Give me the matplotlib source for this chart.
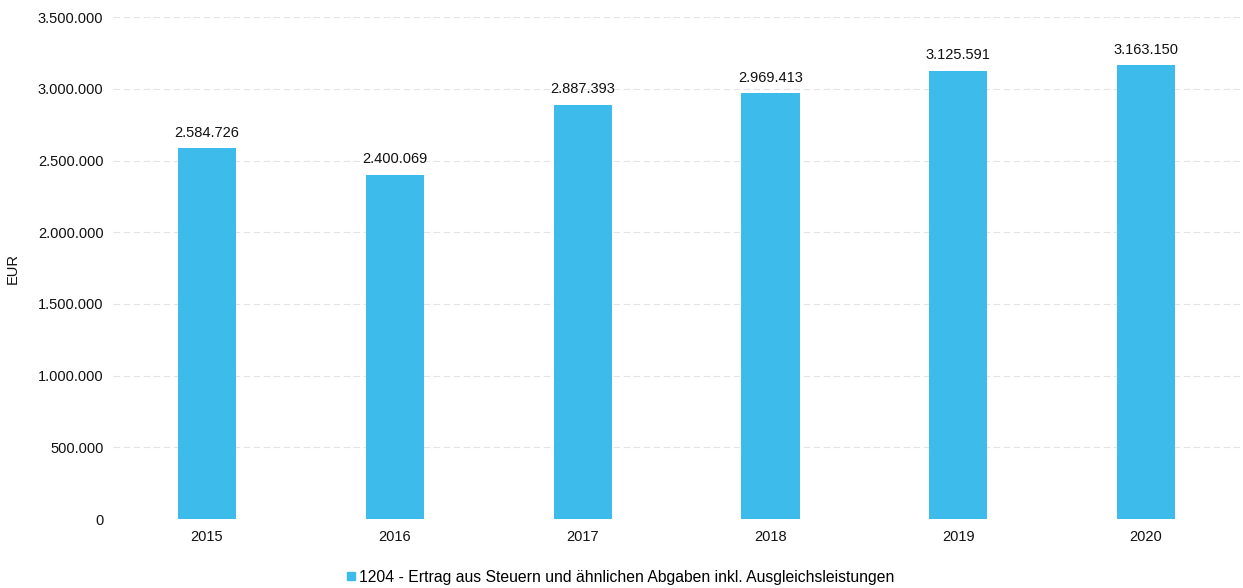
import numpy as np
import matplotlib.pyplot as plt
from matplotlib.ticker import FuncFormatter
from matplotlib.lines import Line2D

plt.rcParams["font.family"] = ["Liberation Sans", "DejaVu Sans"]

# Daten
years = ["2015", "2016", "2017", "2018", "2019", "2020"]
values = [2584726, 2400069, 2887393, 2969413, 3125591, 3163150]
y_ticks = [0, 500000, 1000000, 1500000, 2000000, 2500000, 3000000, 3500000]
series_label = "1204 - Ertrag aus Steuern und ähnlichen Abgaben inkl. Ausgleichsleistungen"

BAR_COLOR = "#3dbbeb"


def fmt_de(v, pos=None):
    """Tausendertrennzeichen mit Punkt"""
    return f"{int(round(v)):,}".replace(",", ".")


fig = plt.figure(figsize=(12.43, 5.88), dpi=100)
ax = fig.add_axes([0.091, 0.117, 0.9066, 0.854])

x = np.arange(len(years))
ax.bar(x, values, width=0.31, color=BAR_COLOR, zorder=3)

for xi, v in zip(x, values):
    ax.text(xi, v + 60000, fmt_de(v), ha="center", va="bottom", fontsize=10.5, color="#111111")

ax.set_xlim(-0.5, len(years) - 0.5)
ax.set_ylim(0, 3500000)
ax.set_yticks(y_ticks)
ax.yaxis.set_major_formatter(FuncFormatter(fmt_de))
ax.set_xticks(x)
ax.set_xticklabels(years)
ax.tick_params(axis="both", length=0, labelsize=10.5, colors="#111111")
ax.tick_params(axis="y", pad=7)
ax.tick_params(axis="x", pad=8)

ax.grid(axis="y", color="#e4e4e4", linestyle=(0, (6, 3)), linewidth=0.8, zorder=0)
for s in ax.spines.values():
    s.set_visible(False)

ax.set_ylabel("EUR", fontsize=10.5, color="#111111")
ax.yaxis.set_label_coords(-0.083, 0.5)

handle = Line2D([], [], marker="s", linestyle="none", markersize=6,
                markerfacecolor=BAR_COLOR, markeredgecolor=BAR_COLOR)
fig.legend([handle], [series_label], loc="center", bbox_to_anchor=(0.4975, 0.018),
           frameon=False, fontsize=11.3, handletextpad=0.0, handlelength=1.0)

fig.savefig("out.png", dpi=100)
